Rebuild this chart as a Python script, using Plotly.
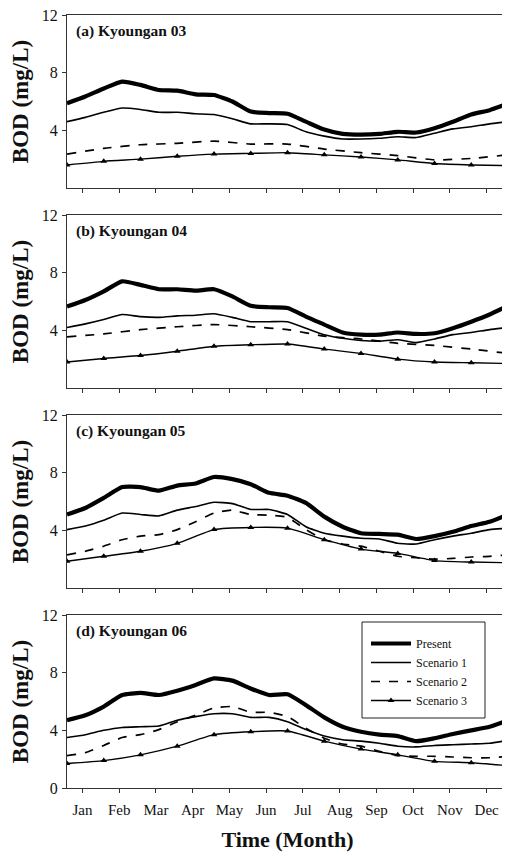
import plotly.graph_objects as go

months = ["Jan", "Feb", "Mar", "Apr", "May", "Jun", "Jul", "Aug", "Sep", "Oct", "Nov", "Dec"]
x_half = [i * 0.5 for i in range(25)]
x_int = list(range(13))

panel_titles = ["(a) Kyoungan 03", "(b) Kyoungan 04", "(c) Kyoungan 05", "(d) Kyoungan 06"]

# Panel (a)
present_a = [5.88, 6.35, 6.9, 7.38, 7.15, 6.8, 6.75, 6.5, 6.45, 6.0, 5.3, 5.2, 5.15, 4.6, 4.05, 3.75, 3.7, 3.75, 3.9, 3.85, 4.15, 4.6, 5.1, 5.4, 5.85]
s1_a = [4.6, 4.9, 5.25, 5.55, 5.45, 5.25, 5.25, 5.15, 5.1, 4.8, 4.45, 4.45, 4.4, 3.9, 3.6, 3.4, 3.4, 3.45, 3.55, 3.5, 3.8, 4.1, 4.25, 4.45, 4.6]
s2_a = [2.35, 2.75, 3.0, 3.1, 3.25, 3.05, 3.05, 2.7, 2.45, 2.25, 1.95, 2.05, 2.3]
s3_a = [1.6, 1.85, 2.0, 2.2, 2.35, 2.4, 2.45, 2.3, 2.15, 1.95, 1.7, 1.6, 1.55]

# Panel (b)
present_b = [5.65, 6.1, 6.7, 7.4, 7.15, 6.85, 6.85, 6.75, 6.85, 6.35, 5.7, 5.6, 5.55, 4.95, 4.4, 3.85, 3.7, 3.7, 3.85, 3.75, 3.8, 4.15, 4.6, 5.1, 5.7]
s1_b = [4.2, 4.45, 4.75, 5.1, 4.95, 4.9, 5.0, 5.05, 5.15, 4.9, 4.6, 4.6, 4.6, 4.15, 3.7, 3.45, 3.3, 3.25, 3.35, 3.15, 3.4, 3.7, 3.85, 4.05, 4.2]
s2_b = [3.55, 3.75, 4.05, 4.25, 4.4, 4.25, 4.05, 3.6, 3.4, 3.1, 2.95, 2.7, 2.4]
s3_b = [1.8, 2.05, 2.25, 2.55, 2.9, 3.0, 3.05, 2.7, 2.4, 2.0, 1.8, 1.75, 1.7]

# Panel (c)
present_c = [5.1, 5.55, 6.25, 7.0, 7.0, 6.75, 7.1, 7.25, 7.7, 7.55, 7.2, 6.6, 6.4, 5.9, 4.95, 4.25, 3.8, 3.75, 3.7, 3.4, 3.6, 3.9, 4.3, 4.6, 5.1]
s1_c = [4.05, 4.3, 4.7, 5.2, 5.1, 5.0, 5.4, 5.65, 5.95, 5.85, 5.45, 5.45, 5.1, 4.25, 3.8, 3.6, 3.45, 3.4, 3.1, 3.05, 3.35, 3.6, 3.8, 4.05, 4.15]
s2_c = [2.3, 2.55, 2.9, 3.35, 3.6, 3.7, 4.05, 4.6, 5.2, 5.4, 5.1, 5.05, 4.9, 4.05, 3.35, 3.05, 2.9, 2.55, 2.2, 2.1, 2.0, 2.05, 2.15, 2.2, 2.3]
s3_c = [1.85, 2.2, 2.55, 3.1, 4.05, 4.2, 4.15, 3.35, 2.7, 2.4, 1.9, 1.8, 1.75]

# Panel (d)
present_d = [4.7, 5.05, 5.65, 6.45, 6.6, 6.45, 6.75, 7.15, 7.6, 7.45, 6.9, 6.45, 6.5, 5.75, 4.9, 4.25, 3.9, 3.7, 3.6, 3.25, 3.45, 3.75, 4.0, 4.25, 4.7]
s1_d = [3.5, 3.7, 4.0, 4.2, 4.25, 4.3, 4.7, 4.95, 5.15, 5.15, 4.9, 4.9, 4.6, 4.05, 3.6, 3.35, 3.25, 3.1, 2.9, 2.85, 2.95, 3.0, 3.05, 3.1, 3.3]
s2_d = [2.25, 2.45, 2.95, 3.5, 3.7, 4.05, 4.6, 5.05, 5.55, 5.65, 5.25, 5.25, 4.95, 4.15, 3.45, 3.05, 2.9, 2.55, 2.25, 2.2, 2.2, 2.15, 2.1, 2.1, 2.2]
s3_d = [1.7, 1.9, 2.3, 2.9, 3.7, 3.9, 3.95, 3.25, 2.7, 2.3, 1.85, 1.75, 1.55]

panels = [
    (present_a, s1_a, s2_a, s3_a),
    (present_b, s1_b, s2_b, s3_b),
    (present_c, s1_c, s2_c, s3_c),
    (present_d, s1_d, s2_d, s3_d),
]

# page body has an 8px margin, so the figure is laid out 8px smaller
OFF = 8
W, H = 510 - OFF, 857 - OFF
ML, MR, MT, MB = 67 - OFF, 2, 15 - OFF, 69
pw = W - ML - MR
ph = H - MT - MB
panel_px = [(15, 188), (215, 388), (415, 588), (615, 788)]  # screen coords

serif = "Liberation Serif"
fig = go.Figure()


def px_x(p):
    return (p - OFF - ML) / pw


def px_y(p):
    return (H - MB - (p - OFF)) / ph


for k, (pres, s1, s2, s3) in enumerate(panels):
    n = k + 1
    xa = "x" if n == 1 else f"x{n}"
    ya = "y" if n == 1 else f"y{n}"
    show = (n == 4)

    def xs(arr):
        return x_half if len(arr) == 25 else x_int

    fig.add_trace(go.Scatter(x=xs(pres), y=pres, mode="lines", name="Present",
                             line=dict(color="black", width=4.2, shape="spline", smoothing=0.5),
                             xaxis=xa, yaxis=ya, showlegend=show))
    fig.add_trace(go.Scatter(x=xs(s1), y=s1, mode="lines", name="Scenario 1",
                             line=dict(color="black", width=1.6, shape="spline", smoothing=0.5),
                             xaxis=xa, yaxis=ya, showlegend=show))
    fig.add_trace(go.Scatter(x=xs(s2), y=s2, mode="lines", name="Scenario 2",
                             line=dict(color="black", width=1.7, dash="dash", shape="spline", smoothing=0.5),
                             xaxis=xa, yaxis=ya, showlegend=show))
    fig.add_trace(go.Scatter(x=xs(s3), y=s3, mode="lines+markers", name="Scenario 3",
                             line=dict(color="black", width=1.4, shape="spline", smoothing=0.5),
                             marker=dict(symbol="triangle-up", size=6, color="black"),
                             xaxis=xa, yaxis=ya, showlegend=show))

    top, bot = panel_px[k]
    dom = [px_y(bot), px_y(top)]
    xkey = "xaxis" if n == 1 else f"xaxis{n}"
    ykey = "yaxis" if n == 1 else f"yaxis{n}"
    xdict = dict(domain=[0, 1], range=[0, 12], anchor=ya,
                 tickvals=[i + 0.42 for i in range(12)],
                 ticktext=months,
                 showticklabels=show,
                 ticks="outside", ticklen=4, tickcolor="#333", ticklabelstandoff=4,
                 ticklabeloverflow="allow",
                 showline=True, linecolor="#333", linewidth=1, mirror=True,
                 showgrid=False, zeroline=False, automargin=False,
                 tickfont=dict(family=serif, size=15, color="#111"))
    if show:
        xdict["title"] = dict(text="<b>Time (Month)</b>",
                              font=dict(family=serif, size=22, color="#111"), standoff=14)
    ydict = dict(domain=dom, range=[0, 12], anchor=xa,
                 tickvals=[0, 4, 8, 12] if show else [4, 8, 12],
                 ticks="outside", ticklen=4, tickcolor="#333", ticklabelstandoff=1,
                 ticklabeloverflow="allow",
                 showline=True, linecolor="#333", linewidth=1, mirror=True,
                 showgrid=False, zeroline=False, automargin=False,
                 tickfont=dict(family=serif, size=16, color="#111"),
                 title=dict(text="<b>BOD (mg/L)</b>",
                            font=dict(family=serif, size=23, color="#111"), standoff=6))
    fig.update_layout({xkey: xdict, ykey: ydict})
    fig.add_annotation(text=f"<b>{panel_titles[k]}</b>", xref=f"{xa} domain", yref=f"{ya} domain",
                       x=0.017, y=(bot - (top + 16)) / (bot - top),
                       xanchor="left", yanchor="middle", showarrow=False,
                       font=dict(family=serif, size=15.5, color="#111"))

# legend frame
fig.add_shape(type="rect", xref="paper", yref="paper",
              x0=px_x(362), x1=px_x(485), y0=px_y(718), y1=px_y(622),
              line=dict(color="#222", width=1), fillcolor="white", layer="above")

fig.update_layout(
    width=W, height=H,
    margin=dict(l=ML, r=MR, t=MT, b=MB, autoexpand=False),
    paper_bgcolor="white", plot_bgcolor="white",
    legend=dict(x=px_x(366), y=px_y(629), xanchor="left", yanchor="top",
                borderwidth=0, bgcolor="rgba(0,0,0,0)",
                font=dict(family=serif, size=12, color="#111"),
                itemwidth=40, tracegroupgap=0),
)

fig.write_html("out.html")
